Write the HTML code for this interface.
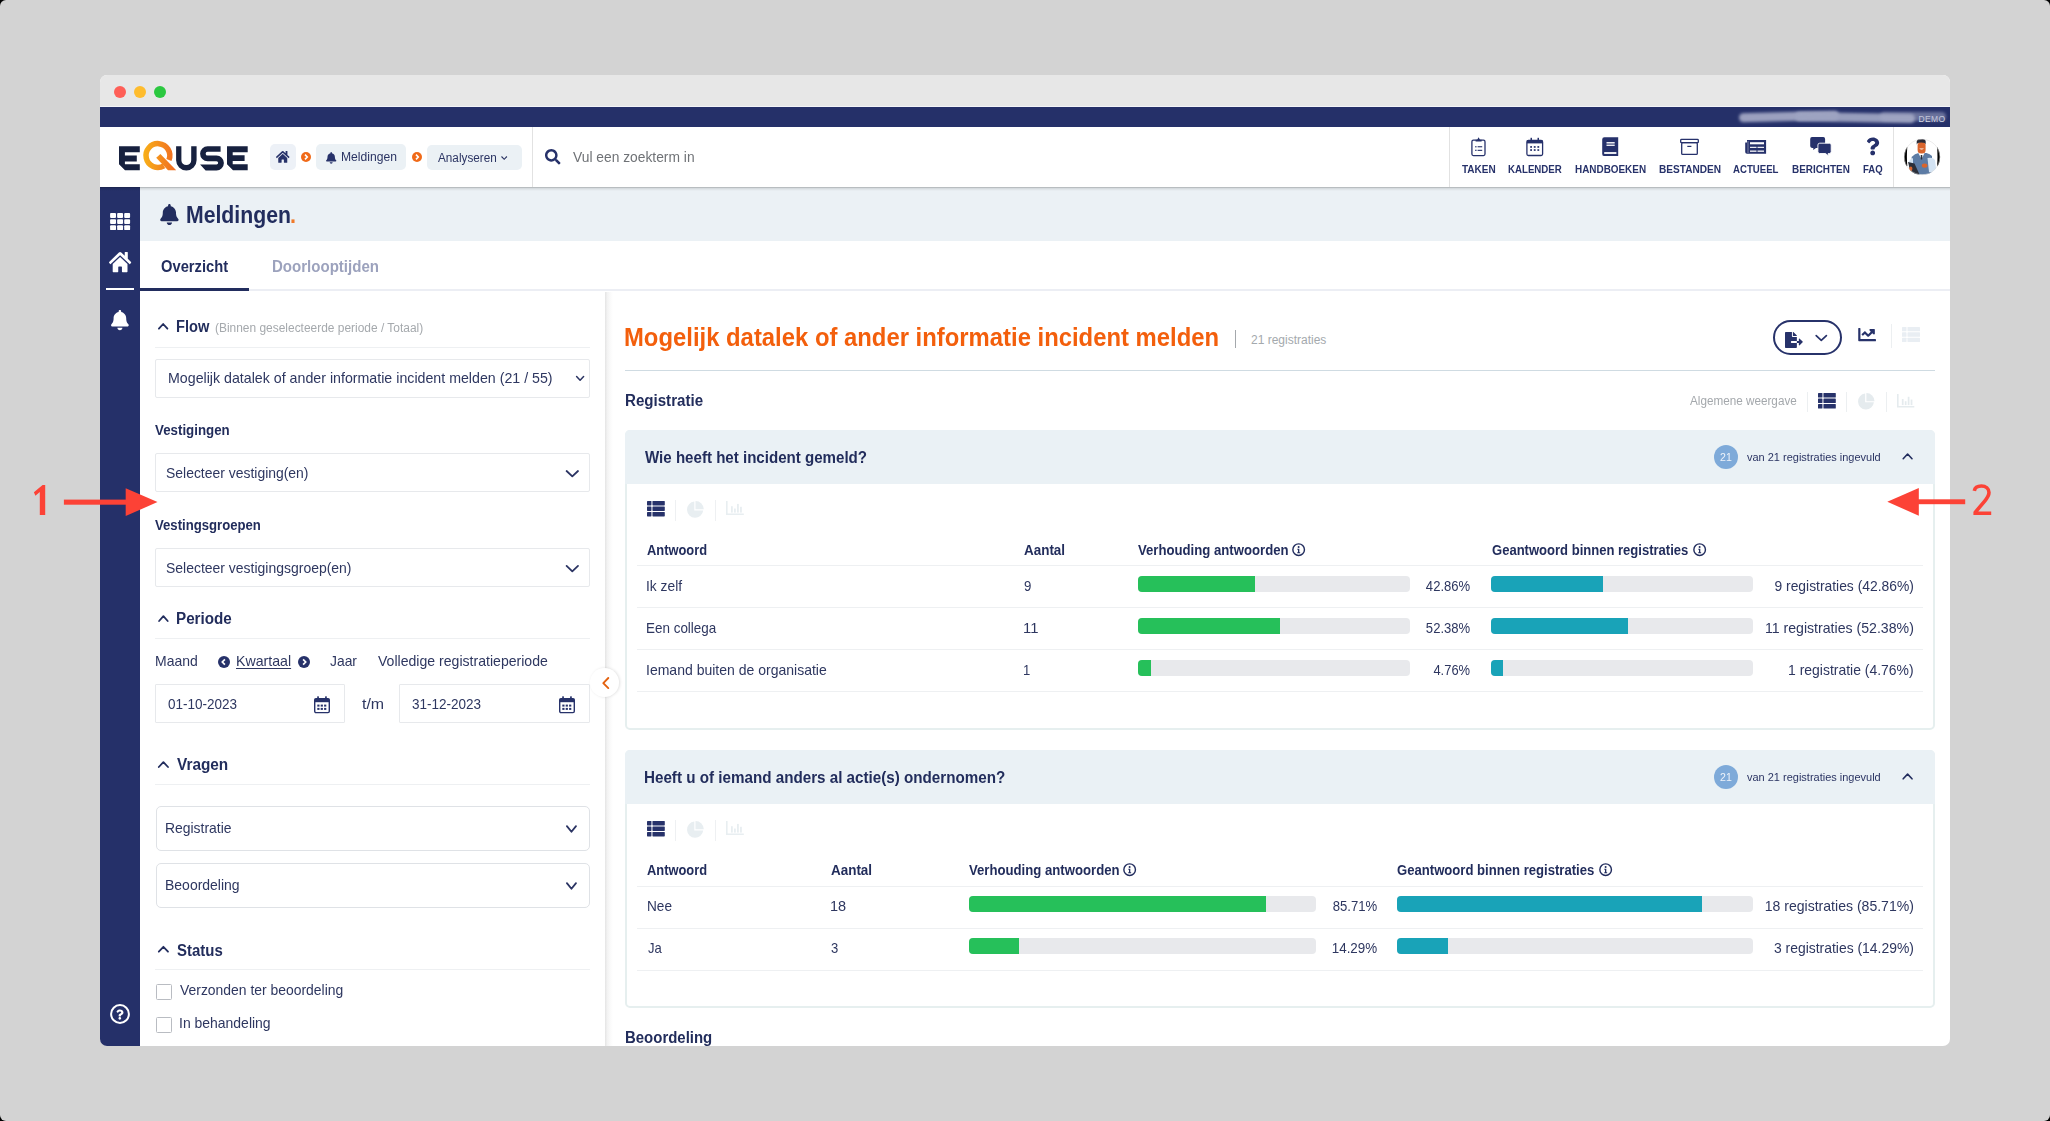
<!DOCTYPE html>
<html><head><meta charset="utf-8"><title>EQUSE - Meldingen</title>
<style>
html,body{margin:0;padding:0;}
body{width:2050px;height:1121px;overflow:hidden;position:relative;background:#000;font-family:"Liberation Sans", sans-serif;}
svg{position:absolute;overflow:visible;}
</style></head><body>
<div style="position:absolute;left:0;top:0;width:2050px;height:1121px;border-radius:6px;background:#d3d3d3;overflow:hidden;">
<div style="position:absolute;left:0;top:0;width:2050px;height:1121px;clip-path:inset(75px 100px 75px 100px round 7px);">
<div style="position:absolute;left:100px;top:75px;width:1850px;height:971px;background:#ffffff;"></div><div style="position:absolute;left:100px;top:75px;width:1850px;height:32px;background:#e7e7e7;"></div><div style="position:absolute;left:113.7px;top:85.7px;width:12.6px;height:12.6px;background:#fe5f57;border-radius:50%;"></div><div style="position:absolute;left:133.7px;top:85.7px;width:12.6px;height:12.6px;background:#febc2e;border-radius:50%;"></div><div style="position:absolute;left:153.7px;top:85.7px;width:12.6px;height:12.6px;background:#2bc840;border-radius:50%;"></div><div style="position:absolute;left:100px;top:105.8px;width:1850px;height:1.2px;background:#f3f4f8;"></div><div style="position:absolute;left:100px;top:107px;width:1850px;height:20px;background:#253069;"></div><span style="position:absolute;left:1918.5px;top:114.5px;font-size:8.5px;line-height:8.5px;font-weight:400;color:#e4e7f2;letter-spacing:0.4px;">DEMO</span><div style="position:absolute;left:1739px;top:111.5px;width:100px;height:8.5px;background:#a2a7c4;filter:blur(1.6px);opacity:0.95;border-radius:5px;transform:rotate(-1.5deg);"></div><div style="position:absolute;left:1795px;top:112.5px;width:120px;height:9px;background:#9ea4c2;filter:blur(1.6px);opacity:0.95;border-radius:5px;transform:rotate(1deg);"></div><div style="position:absolute;left:1880px;top:111.5px;width:66px;height:9px;background:#a4a9c6;filter:blur(1.8px);opacity:0.55;border-radius:5px;"></div><div style="position:absolute;left:100px;top:127px;width:1850px;height:60px;background:#fff;"></div><div style="position:absolute;left:100px;top:187px;width:40px;height:859px;background:#253069;"></div><div style="position:absolute;left:140px;top:187px;width:1810px;height:54px;background:#ebf1f5;"></div><div style="position:absolute;left:140px;top:241px;width:1810px;height:49px;background:#fff;"></div><div style="position:absolute;left:140px;top:289px;width:1810px;height:2px;background:#eceef4;"></div><div style="position:absolute;left:140px;top:288px;width:109px;height:3px;background:#222d5e;"></div><div style="position:absolute;left:100px;top:187px;width:1850px;height:4px;background:linear-gradient(to bottom,rgba(0,0,0,0.28),rgba(0,0,0,0.08) 40%,rgba(0,0,0,0));z-index:3;"></div><div style="position:absolute;left:605px;top:292px;width:8px;height:754px;background:linear-gradient(to right,#e4e4e4,#f3f3f3 30%,#fbfbfb 70%,#fff);"></div><svg style="left:0px;top:0px;z-index:4;pointer-events:none;" width="2050" height="1121" viewBox="0 0 2050 1121"><defs><linearGradient id="qg" x1="143" y1="0" x2="176" y2="0" gradientUnits="userSpaceOnUse">
<stop offset="0" stop-color="#f8b118"/><stop offset="1" stop-color="#f06a22"/></linearGradient></defs>
<path fill="#17213f" d="M119,146.2 H139.8 V152.2 H124.9 V155.5 H136.8 V161.4 H124.9 V164.3 H139.8 V170.3 H125 L119,164.3 Z"/>
<path fill="#17213f" d="M176.1,146.2 H181.4 V160.2 A4.9,4.9 0 0 0 191.2,160.2 V146.2 H196.6 V160.2 A10.25,10.25 0 0 1 176.1,160.2 Z"/>
<path fill="#17213f" d="M220.6,146.2 V151.7 H207.6 A1.95,1.95 0 0 0 207.6,155.6 H216.5 A7.4,7.4 0 0 1 216.5,170.4 H205.6 L200.1,164.5 H216.5 A1.65,1.65 0 0 0 216.5,161.2 H207.6 A7.5,7.5 0 0 1 207.6,146.2 Z"/>
<path fill="#17213f" d="M227,146.2 H247.7 V152.2 H232.7 V155.3 H244.6 V160.9 H232.7 V164.3 H247.7 V170.3 H233 L227,164.3 Z"/>
<path fill="none" stroke="url(#qg)" stroke-width="5.5" d="M163.85,165.81 A11.9,11.9 0 1 1 168.93,159.96"/>
<path fill="url(#qg)" d="M156.2,157.7 L160.4,153.9 L176.2,170.3 L168,170.3 Z"/>
</svg><div style="position:absolute;left:270px;top:144px;width:25.7px;height:25.6px;background:#edf1f7;border-radius:5px;"></div><div style="position:absolute;left:316.1px;top:144px;width:90.4px;height:25.8px;background:#ebf1f5;border-radius:5px;"></div><div style="position:absolute;left:427px;top:145.1px;width:95px;height:25.4px;background:#ebf1f5;border-radius:5px;"></div><svg style="left:276.3px;top:151.3px;z-index:4;overflow:visible;" width="13.5" height="11.8" viewBox="0 32 576 448" preserveAspectRatio="none"><path fill="#27326a" d="M280.37 148.26L96 300.11V464a16 16 0 0 0 16 16l112.06-.29a16 16 0 0 0 15.92-16V368a16 16 0 0 1 16-16h64a16 16 0 0 1 16 16v95.64a16 16 0 0 0 16 16.05L464 480a16 16 0 0 0 16-16V300L295.67 148.26a12.190 12.190 0 0 0-15.3 0zM571.6 251.47L488 182.56V44.05a12 12 0 0 0-12-12h-56a12 12 0 0 0-12 12v72.61L318.47 43a48 48 0 0 0-61 0L4.34 251.47a12 12 0 0 0-1.6 16.9l25.5 31A12 12 0 0 0 45.15 301l235.22-193.74a12.19 12.19 0 0 1 15.3 0L530.9 301a12 12 0 0 0 16.9-1.6l25.5-31a12 12 0 0 0-1.7-16.93z"/></svg><svg style="left:326px;top:151.7px;z-index:4;" width="10.4" height="11.8" viewBox="0 0 448 512"><path fill="#27326a" d="M224 512c35.32 0 63.97-28.65 63.97-64H160.03c0 35.35 28.65 64 63.97 64zm215.39-149.71c-19.32-20.760-55.47-51.99-55.47-154.29 0-77.7-54.48-139.9-127.94-155.16V32c0-17.67-14.32-32-31.98-32s-31.98 14.33-31.98 32v20.84C118.56 68.1 64.08 130.3 64.08 208c0 102.3-36.15 133.53-55.47 154.29-6 6.45-8.66 14.16-8.61 21.71.11 16.4 12.98 32 32.1 32h383.8c19.12 0 32-15.6 32.1-32 .05-7.55-2.61-15.27-8.61-21.71z"/></svg><svg style="left:301px;top:152.3px;z-index:4;" width="10" height="10" viewBox="0 0 10 10"><circle cx="5" cy="5" r="5" fill="#f06a19"/><path d="M4,2.6 L6.3,5 L4,7.4" fill="none" stroke="#fff" stroke-width="1.6"/></svg><svg style="left:412px;top:152.3px;z-index:4;" width="10" height="10" viewBox="0 0 10 10"><circle cx="5" cy="5" r="5" fill="#f06a19"/><path d="M4,2.6 L6.3,5 L4,7.4" fill="none" stroke="#fff" stroke-width="1.6"/></svg><svg style="left:500.8px;top:155.9px;z-index:4;" width="6.4" height="3.9" viewBox="0 0 6.4 3.9"><path d="M0.5,0.5 L3.2,3.3 L5.9,0.5" fill="none" stroke="#2b3463" stroke-width="1.1"/></svg><div style="position:absolute;left:532px;top:127px;width:1px;height:60px;background:#e2e2e2;z-index:3;"></div><div style="position:absolute;left:1449px;top:127px;width:1px;height:60px;background:#e2e2e2;z-index:3;"></div><div style="position:absolute;left:1893px;top:127px;width:1px;height:60px;background:#e2e2e2;z-index:3;"></div><svg style="left:545px;top:149px;z-index:4;" width="15.5" height="15.6" viewBox="0 0 512 512"><path fill="#27326a" d="M505 442.7L405.3 343c-4.5-4.5-10.6-7-17-7H372c27.6-35.3 44-79.7 44-128C416 93.1 322.9 0 208 0S0 93.1 0 208s93.1 208 208 208c48.3 0 92.7-16.4 128-44v16.3c0 6.4 2.5 12.5 7 17l99.7 99.7c9.4 9.4 24.6 9.4 33.9 0l28.3-28.3c9.4-9.4 9.4-24.6.1-34zM208 336c-70.7 0-128-57.2-128-128 0-70.7 57.2-128 128-128 70.7 0 128 57.2 128 128 0 70.7-57.2 128-128 128z"/></svg><svg style="left:0px;top:0px;z-index:4;pointer-events:none;" width="2050" height="1121" viewBox="0 0 2050 1121">
<g fill="none" stroke="#26316b" stroke-width="1.3">
 <rect x="1471.9" y="140.2" width="13.1" height="15.4" rx="1.5"/>
 <rect x="1526.9" y="140.4" width="15.7" height="15.1" rx="1.5"/>
 <rect x="1680.7" y="139.4" width="17.6" height="3.3" rx="0.8"/>
 <rect x="1681.7" y="142.7" width="15.6" height="11.7" rx="1"/>
</g>
<g fill="#26316b">
 <path d="M1475.6,139.8 h6 v1.6 h-6z M1477.2,139.8 L1478.6,137.3 L1480,139.8z"/>
 <rect x="1475.2" y="146.1" width="1.3" height="1.3"/><rect x="1477.6" y="146.2" width="4.6" height="1.1"/>
 <rect x="1475.2" y="149.7" width="1.3" height="1.3"/><rect x="1477.6" y="149.8" width="4.6" height="1.1"/>
 <rect x="1526.9" y="140.4" width="15.7" height="3"/>
 <rect x="1530.5" y="137.8" width="1.5" height="3"/><rect x="1537.5" y="137.8" width="1.5" height="3"/>
 <rect x="1530.2" y="146.1" width="1.8" height="1.7"/><rect x="1533.8" y="146.1" width="1.8" height="1.7"/><rect x="1537.4" y="146.1" width="1.8" height="1.7"/>
 <rect x="1530.2" y="149.2" width="1.8" height="1.7"/><rect x="1533.8" y="149.2" width="1.8" height="1.7"/><rect x="1537.4" y="149.2" width="1.8" height="1.7"/>
 <path d="M1604.4,137.3 H1618.2 V156.1 H1604.4 A2.2,2.2 0 0 1 1602.2,153.9 V139.5 A2.2,2.2 0 0 1 1604.4,137.3Z"/>
 <rect x="1687.3" y="145.8" width="4.1" height="1.2"/>
 <path d="M1747,140 H1766.1 V153.8 H1747 A1.8,1.8 0 0 1 1745.2,152 V142.5 H1747Z"/>
 <path d="M1812,137.1 H1823.3 A1.8,1.8 0 0 1 1825.1,138.9 V146.1 A1.8,1.8 0 0 1 1823.3,147.9 H1816 L1813.3,150 V147.9 H1812 A1.8,1.8 0 0 1 1810.2,146.1 V138.9 A1.8,1.8 0 0 1 1812,137.1Z"/>
 <path d="M1819.7,143.2 H1829.4 A1.8,1.8 0 0 1 1831.2,145 V151.7 A1.8,1.8 0 0 1 1829.4,153.5 H1828.2 V155.8 L1825.6,153.5 H1819.7 A1.8,1.8 0 0 1 1817.9,151.7 V145 A1.8,1.8 0 0 1 1819.7,143.2Z" stroke="#fff" stroke-width="0.9"/>
</g>
<g fill="#fff">
 <rect x="1606.5" y="142.1" width="8.2" height="1.4"/><rect x="1606.5" y="144.6" width="8.2" height="1.3"/>
 <rect x="1604.2" y="152.1" width="12.2" height="1.8"/>
 <rect x="1750" y="142.2" width="14" height="2.1"/>
 <rect x="1750" y="146.8" width="6.5" height="1.1"/><rect x="1757.5" y="146.8" width="6.5" height="1.1"/>
 <rect x="1750" y="150.4" width="6.5" height="1.6" opacity="0.8"/><rect x="1757.5" y="150.4" width="6.5" height="1.6" opacity="0.8"/>
 <rect x="1747.6" y="141" width="0.8" height="12" opacity="0.5"/>
</g>
</svg><svg style="left:1866px;top:137.2px;z-index:4;overflow:visible;" width="13.4" height="18.9" viewBox="0 0 384 512"><path fill="#26316b" d="M202.021 0C122.202 0 70.503 32.703 29.914 91.026c-7.363 10.58-5.093 25.086 5.178 32.874l43.138 32.709c10.373 7.865 25.132 6.026 33.253-4.148 25.049-31.381 43.63-49.449 82.757-49.449 30.764 0 68.816 19.799 68.816 49.631 0 22.552-18.617 34.134-48.993 51.164-35.423 19.86-82.299 44.576-82.299 106.405V320c0 13.255 10.745 24 24 24h72.471c13.255 0 24-10.745 24-24v-5.773c0-42.86 125.268-44.645 125.268-160.627C377.504 66.256 286.902 0 202.021 0zM192 373.459c-38.196 0-69.271 31.075-69.271 69.271 0 38.195 31.075 69.27 69.271 69.27s69.271-31.075 69.271-69.271-31.075-69.27-69.271-69.27z"/></svg><svg style="left:0px;top:0px;z-index:4;pointer-events:none;" width="2050" height="1121" viewBox="0 0 2050 1121"><g fill="#fff"><rect x="110.10" y="213.10" width="5.9" height="4.8" rx="0.9"/><rect x="110.10" y="219.20" width="5.9" height="4.8" rx="0.9"/><rect x="110.10" y="225.30" width="5.9" height="4.8" rx="0.9"/><rect x="117.15" y="213.10" width="5.9" height="4.8" rx="0.9"/><rect x="117.15" y="219.20" width="5.9" height="4.8" rx="0.9"/><rect x="117.15" y="225.30" width="5.9" height="4.8" rx="0.9"/><rect x="124.20" y="213.10" width="5.9" height="4.8" rx="0.9"/><rect x="124.20" y="219.20" width="5.9" height="4.8" rx="0.9"/><rect x="124.20" y="225.30" width="5.9" height="4.8" rx="0.9"/></g></svg><svg style="left:108.8px;top:252px;z-index:4;overflow:visible;" width="22.2" height="20.2" viewBox="0 32 576 448" preserveAspectRatio="none"><path fill="#fff" d="M280.37 148.26L96 300.11V464a16 16 0 0 0 16 16l112.06-.29a16 16 0 0 0 15.92-16V368a16 16 0 0 1 16-16h64a16 16 0 0 1 16 16v95.64a16 16 0 0 0 16 16.05L464 480a16 16 0 0 0 16-16V300L295.67 148.26a12.190 12.190 0 0 0-15.3 0zM571.6 251.47L488 182.56V44.05a12 12 0 0 0-12-12h-56a12 12 0 0 0-12 12v72.61L318.47 43a48 48 0 0 0-61 0L4.34 251.47a12 12 0 0 0-1.6 16.9l25.5 31A12 12 0 0 0 45.15 301l235.22-193.74a12.19 12.19 0 0 1 15.3 0L530.9 301a12 12 0 0 0 16.9-1.6l25.5-31a12 12 0 0 0-1.7-16.93z"/></svg><div style="position:absolute;left:105.6px;top:288px;width:28.4px;height:2.2px;background:#fff;z-index:4;"></div><svg style="left:111.3px;top:309.8px;z-index:4;" width="17.8" height="20.2" viewBox="0 0 448 512"><path fill="#fff" d="M224 512c35.32 0 63.97-28.65 63.97-64H160.03c0 35.35 28.65 64 63.97 64zm215.39-149.71c-19.32-20.760-55.47-51.99-55.47-154.29 0-77.7-54.48-139.9-127.94-155.16V32c0-17.67-14.32-32-31.98-32s-31.98 14.33-31.98 32v20.84C118.56 68.1 64.08 130.3 64.08 208c0 102.3-36.15 133.53-55.47 154.29-6 6.45-8.66 14.16-8.61 21.71.11 16.4 12.98 32 32.1 32h383.8c19.12 0 32-15.6 32.1-32 .05-7.55-2.61-15.27-8.61-21.71z"/></svg><svg style="left:110px;top:1004.4px;z-index:4;" width="20" height="20" viewBox="0 0 20 20"><circle cx="10" cy="10" r="8.9" fill="none" stroke="#fff" stroke-width="2"/></svg><svg style="left:116.3px;top:1009.2px;z-index:4;overflow:visible;" width="7.6" height="11.3" viewBox="0 0 384 512"><path fill="#fff" d="M202.021 0C122.202 0 70.503 32.703 29.914 91.026c-7.363 10.58-5.093 25.086 5.178 32.874l43.138 32.709c10.373 7.865 25.132 6.026 33.253-4.148 25.049-31.381 43.63-49.449 82.757-49.449 30.764 0 68.816 19.799 68.816 49.631 0 22.552-18.617 34.134-48.993 51.164-35.423 19.86-82.299 44.576-82.299 106.405V320c0 13.255 10.745 24 24 24h72.471c13.255 0 24-10.745 24-24v-5.773c0-42.86 125.268-44.645 125.268-160.627C377.504 66.256 286.902 0 202.021 0zM192 373.459c-38.196 0-69.271 31.075-69.271 69.271 0 38.195 31.075 69.27 69.271 69.27s69.271-31.075 69.271-69.271-31.075-69.27-69.271-69.27z"/></svg><svg style="left:160px;top:203.7px;z-index:4;" width="18.8" height="21.1" viewBox="0 0 448 512"><path fill="#222d5e" d="M224 512c35.32 0 63.97-28.65 63.97-64H160.03c0 35.35 28.65 64 63.97 64zm215.39-149.71c-19.32-20.760-55.47-51.99-55.47-154.29 0-77.7-54.48-139.9-127.94-155.16V32c0-17.67-14.32-32-31.98-32s-31.98 14.33-31.98 32v20.84C118.56 68.1 64.08 130.3 64.08 208c0 102.3-36.15 133.53-55.47 154.29-6 6.45-8.66 14.16-8.61 21.71.11 16.4 12.98 32 32.1 32h383.8c19.12 0 32-15.6 32.1-32 .05-7.55-2.61-15.27-8.61-21.71z"/></svg><svg style="left:0px;top:0px;z-index:4;pointer-events:none;" width="2050" height="1121" viewBox="0 0 2050 1121"><path d="M158.9,328.7 L163.15,324.0 L167.4,328.7" fill="none" stroke="#222d5e" stroke-width="1.8" stroke-linecap="round" stroke-linejoin="round"/></svg><div style="position:absolute;left:155.4px;top:347.3px;width:434.6px;height:1px;background:#eef0f2;"></div><div style="position:absolute;left:155.4px;top:358.5px;width:434.6px;height:39.0px;border:1px solid #e7e9ec;box-sizing:border-box;border-radius:2px;background:#fff;"></div><svg style="left:0px;top:0px;z-index:4;pointer-events:none;" width="2050" height="1121" viewBox="0 0 2050 1121"><path d="M576.6,376.5 L580.1,380.2 L583.6,376.5" fill="none" stroke="#2b3463" stroke-width="1.5" stroke-linecap="round" stroke-linejoin="round"/></svg><div style="position:absolute;left:155.4px;top:453.3px;width:434.6px;height:39.0px;border:1px solid #e7e9ec;box-sizing:border-box;border-radius:2px;background:#fff;"></div><svg style="left:0px;top:0px;z-index:4;pointer-events:none;" width="2050" height="1121" viewBox="0 0 2050 1121"><path d="M566.6,471.0 L572.3,476.4 L578.0,471.0" fill="none" stroke="#2b3463" stroke-width="1.8" stroke-linecap="round" stroke-linejoin="round"/></svg><div style="position:absolute;left:155.4px;top:548.2px;width:434.6px;height:39.09999999999991px;border:1px solid #e7e9ec;box-sizing:border-box;border-radius:2px;background:#fff;"></div><svg style="left:0px;top:0px;z-index:4;pointer-events:none;" width="2050" height="1121" viewBox="0 0 2050 1121"><path d="M566.6,565.9 L572.3,571.3 L578.0,565.9" fill="none" stroke="#2b3463" stroke-width="1.8" stroke-linecap="round" stroke-linejoin="round"/></svg><svg style="left:0px;top:0px;z-index:4;pointer-events:none;" width="2050" height="1121" viewBox="0 0 2050 1121"><path d="M159.1,621.0 L163.4,616.2 L167.70000000000002,621.0" fill="none" stroke="#222d5e" stroke-width="1.8" stroke-linecap="round" stroke-linejoin="round"/></svg><div style="position:absolute;left:155.4px;top:638px;width:434.6px;height:1px;background:#eef0f2;"></div><svg style="left:218px;top:655.6px;z-index:4;" width="12" height="12" viewBox="0 0 12 12"><circle cx="6" cy="6" r="6" fill="#27326a"/><path d="M6.9,3.3 L4.3,6 L6.9,8.7" fill="none" stroke="#fff" stroke-width="1.7"/></svg><svg style="left:297.8px;top:655.6px;z-index:4;" width="12" height="12" viewBox="0 0 12 12"><circle cx="6" cy="6" r="6" fill="#27326a"/><path d="M5.1,3.3 L7.7,6 L5.1,8.7" fill="none" stroke="#fff" stroke-width="1.7"/></svg><div style="position:absolute;left:155px;top:684.1px;width:189.5px;height:39.299999999999955px;border:1px solid #e7e9ec;box-sizing:border-box;border-radius:1px;background:#fff;"></div><div style="position:absolute;left:398.8px;top:684.1px;width:191.2px;height:39.299999999999955px;border:1px solid #e7e9ec;box-sizing:border-box;border-radius:1px;background:#fff;"></div><svg style="left:314px;top:695.5px;z-index:4;" width="16" height="17.3" viewBox="0 0 16 17.3"><rect x="0.7" y="2.8" width="14.6" height="13.8" rx="1.3" fill="none" stroke="#27326a" stroke-width="1.4"/><rect x="0.7" y="2.8" width="14.6" height="3.4" fill="#27326a"/><rect x="3.2" y="0.2" width="1.7" height="3.5" rx="0.5" fill="#27326a"/><rect x="11.1" y="0.2" width="1.7" height="3.5" rx="0.5" fill="#27326a"/><rect x="3.3" y="8.6" width="2.2" height="2" fill="#27326a"/><rect x="3.3" y="11.9" width="2.2" height="2" fill="#27326a"/><rect x="6.7" y="8.6" width="2.2" height="2" fill="#27326a"/><rect x="6.7" y="11.9" width="2.2" height="2" fill="#27326a"/><rect x="10.1" y="8.6" width="2.2" height="2" fill="#27326a"/><rect x="10.1" y="11.9" width="2.2" height="2" fill="#27326a"/></svg><svg style="left:559px;top:695.5px;z-index:4;" width="16" height="17.3" viewBox="0 0 16 17.3"><rect x="0.7" y="2.8" width="14.6" height="13.8" rx="1.3" fill="none" stroke="#27326a" stroke-width="1.4"/><rect x="0.7" y="2.8" width="14.6" height="3.4" fill="#27326a"/><rect x="3.2" y="0.2" width="1.7" height="3.5" rx="0.5" fill="#27326a"/><rect x="11.1" y="0.2" width="1.7" height="3.5" rx="0.5" fill="#27326a"/><rect x="3.3" y="8.6" width="2.2" height="2" fill="#27326a"/><rect x="3.3" y="11.9" width="2.2" height="2" fill="#27326a"/><rect x="6.7" y="8.6" width="2.2" height="2" fill="#27326a"/><rect x="6.7" y="11.9" width="2.2" height="2" fill="#27326a"/><rect x="10.1" y="8.6" width="2.2" height="2" fill="#27326a"/><rect x="10.1" y="11.9" width="2.2" height="2" fill="#27326a"/></svg><svg style="left:0px;top:0px;z-index:4;pointer-events:none;" width="2050" height="1121" viewBox="0 0 2050 1121"><path d="M158.79999999999998,767.0 L163.39999999999998,762.1 L168.0,767.0" fill="none" stroke="#222d5e" stroke-width="1.8" stroke-linecap="round" stroke-linejoin="round"/></svg><div style="position:absolute;left:155.4px;top:784px;width:434.6px;height:1px;background:#eef0f2;"></div><div style="position:absolute;left:155.5px;top:805.5px;width:434.5px;height:45.89999999999998px;border:1px solid #dfe2e6;box-sizing:border-box;border-radius:5px;background:#fff;"></div><svg style="left:0px;top:0px;z-index:4;pointer-events:none;" width="2050" height="1121" viewBox="0 0 2050 1121"><path d="M566.9,826.1 L571.45,831.6999999999999 L576.0,826.1" fill="none" stroke="#2b3463" stroke-width="1.8" stroke-linecap="round" stroke-linejoin="round"/></svg><div style="position:absolute;left:155.5px;top:862.8px;width:434.5px;height:45.60000000000002px;border:1px solid #dfe2e6;box-sizing:border-box;border-radius:5px;background:#fff;"></div><svg style="left:0px;top:0px;z-index:4;pointer-events:none;" width="2050" height="1121" viewBox="0 0 2050 1121"><path d="M566.9,883.1 L571.45,888.6999999999999 L576.0,883.1" fill="none" stroke="#2b3463" stroke-width="1.8" stroke-linecap="round" stroke-linejoin="round"/></svg><svg style="left:0px;top:0px;z-index:4;pointer-events:none;" width="2050" height="1121" viewBox="0 0 2050 1121"><path d="M158.79999999999998,951.7 L163.39999999999998,946.8000000000001 L168.0,951.7" fill="none" stroke="#222d5e" stroke-width="1.8" stroke-linecap="round" stroke-linejoin="round"/></svg><div style="position:absolute;left:155.4px;top:969px;width:434.6px;height:1px;background:#eef0f2;"></div><div style="position:absolute;left:156px;top:984.3px;width:16px;height:15.700000000000045px;border:1px solid #b9bcc2;box-sizing:border-box;border-radius:1.5px;background:#fff;"></div><div style="position:absolute;left:156px;top:1017px;width:16px;height:15.799999999999955px;border:1px solid #b9bcc2;box-sizing:border-box;border-radius:1.5px;background:#fff;"></div><div style="position:absolute;left:590.3px;top:668.4px;width:28.6px;height:28.6px;background:#fff;border-radius:50%;box-shadow:1px 0 3px rgba(0,0,0,0.12);z-index:3;"></div><svg style="left:601.7px;top:677.4px;z-index:4;z-index:5;" width="7.3" height="12.1" viewBox="0 0 7.3 12.1"><path d="M6.3,1 L1.3,6.05 L6.3,11.1" fill="none" stroke="#e3610f" stroke-width="1.9" stroke-linecap="round" stroke-linejoin="round"/></svg><div style="position:absolute;left:625px;top:369.6px;width:1310px;height:1.3px;background:#cfdbe2;"></div><div style="position:absolute;left:1235.2px;top:330px;width:1px;height:17.7px;background:#a4a8ac;"></div><div style="position:absolute;left:1773.2px;top:320.2px;width:69.3px;height:34.4px;border:2px solid #27326a;border-radius:18px;box-sizing:border-box;"></div><svg style="left:1784.5px;top:332px;z-index:4;overflow:visible;" width="17.8" height="16" viewBox="0 0 576 512"><path fill="#27326a" d="M384 121.9c0-6.3-2.5-12.4-7-16.9L279.1 7c-4.5-4.5-10.6-7-17-7H256v128h128zM571 308l-95.7-96.4c-10.1-10.1-27.4-3-27.4 11.3V288h-64v64h64v65.2c0 14.3 17.3 21.4 27.4 11.3L571 332c6.6-6.6 6.6-17.4 0-24zm-379 28v-32c0-8.8 7.2-16 16-16h176V160H248c-13.2 0-24-10.8-24-24V0H24C10.7 0 0 10.7 0 24v464c0 13.3 10.7 24 24 24h336c13.3 0 24-10.7 24-24V352H208c-8.8 0-16-7.2-16-16z"/></svg><svg style="left:0px;top:0px;z-index:4;pointer-events:none;" width="2050" height="1121" viewBox="0 0 2050 1121"><path d="M1816.1999999999998,335.7 L1821.3,340.4 L1826.4,335.7" fill="none" stroke="#27326a" stroke-width="1.7" stroke-linecap="round" stroke-linejoin="round"/></svg><svg style="left:1858px;top:327.7px;z-index:4;overflow:visible;" width="18.2" height="13.3" viewBox="0 64 512 384"><path fill="#27326a" d="M496 384H64V80c0-8.84-7.16-16-16-16H16C7.160 64 0 71.16 0 80v336c0 17.67 14.33 32 32 32h464c8.84 0 16-7.16 16-16v-32c0-8.84-7.16-16-16-16zM464 96H345.94c-21.38 0-32.09 25.85-16.97 40.97l32.4 32.4L288 242.75l-73.37-73.37c-12.5-12.5-32.76-12.5-45.25 0l-68.690 68.69c-6.25 6.25-6.25 16.38 0 22.63l22.62 22.62c6.25 6.25 16.38 6.25 22.63 0L192 237.25l73.37 73.37c12.5 12.5 32.76 12.5 45.25 0l96-96 32.4 32.4c15.12 15.12 40.97 4.41 40.97-16.97V112c.01-8.84-7.15-16-15.99-16z"/></svg><div style="position:absolute;left:1891px;top:324px;width:1px;height:23.5px;background:#eceff1;"></div><svg style="left:1902px;top:326.7px;z-index:4;" width="18" height="15.1" viewBox="0 0 18 15.1"><rect x="0" y="0.00" width="4.50" height="4.37" rx="0.6" fill="#e9eef3"/><rect x="5.50" y="0.00" width="12.50" height="4.37" rx="0.6" fill="#e9eef3"/><rect x="0" y="5.37" width="4.50" height="4.37" rx="0.6" fill="#e9eef3"/><rect x="5.50" y="5.37" width="12.50" height="4.37" rx="0.6" fill="#e9eef3"/><rect x="0" y="10.73" width="4.50" height="4.37" rx="0.6" fill="#e9eef3"/><rect x="5.50" y="10.73" width="12.50" height="4.37" rx="0.6" fill="#e9eef3"/></svg><div style="position:absolute;left:1807.3px;top:392px;width:1px;height:20px;background:#eceff1;"></div><svg style="left:1818px;top:392.5px;z-index:4;" width="17.8" height="15.5" viewBox="0 0 17.8 15.5"><rect x="0" y="0.00" width="4.45" height="4.50" rx="0.6" fill="#27326a"/><rect x="5.45" y="0.00" width="12.35" height="4.50" rx="0.6" fill="#27326a"/><rect x="0" y="5.50" width="4.45" height="4.50" rx="0.6" fill="#27326a"/><rect x="5.45" y="5.50" width="12.35" height="4.50" rx="0.6" fill="#27326a"/><rect x="0" y="11.00" width="4.45" height="4.50" rx="0.6" fill="#27326a"/><rect x="5.45" y="11.00" width="12.35" height="4.50" rx="0.6" fill="#27326a"/></svg><div style="position:absolute;left:1846.2px;top:392px;width:1px;height:20px;background:#eceff1;"></div><svg style="left:1857px;top:392.7px;z-index:4;" width="17.5" height="17.5" viewBox="0 0 17.5 17.5"><path d="M8.15,0.6 A7.95,7.95 0 1 0 16.9,9.35 H8.15Z" fill="#e5ebee"/><path d="M9.35,0 A8.15,8.15 0 0 1 17.5,8.15 H9.35Z" fill="#e5ebee"/></svg><div style="position:absolute;left:1886.1px;top:392px;width:1px;height:20px;background:#eceff1;"></div><svg style="left:1897.3px;top:393.5px;z-index:4;" width="17.3" height="13.5" viewBox="0 0 17.3 13.5"><path d="M0.8,0 V12.7 H17.3" fill="none" stroke="#e5ebee" stroke-width="1.6"/><rect x="4.84" y="4.99" width="1.73" height="6.11" fill="#e5ebee"/><rect x="7.79" y="7.21" width="1.73" height="3.88" fill="#e5ebee"/><rect x="10.73" y="2.77" width="1.73" height="8.32" fill="#e5ebee"/><rect x="13.67" y="5.55" width="1.73" height="5.55" fill="#e5ebee"/></svg><div style="position:absolute;left:625px;top:430px;width:1310px;height:299.79999999999995px;border:2px solid #e6efef;border-radius:5px;box-sizing:border-box;background:#fff;"></div><div style="position:absolute;left:625px;top:430px;width:1310px;height:53.7px;background:#eaf1f5;border-radius:5px 5px 0 0;"></div><svg style="left:1713.5px;top:445px;z-index:4;" width="24" height="24" viewBox="0 0 24 24"><circle cx="12" cy="12" r="12" fill="#7eaad9"/></svg><svg style="left:0px;top:0px;z-index:4;pointer-events:none;" width="2050" height="1121" viewBox="0 0 2050 1121"><path d="M1903.1999999999998,458.7 L1907.6,454.0 L1912.0,458.7" fill="none" stroke="#222d5e" stroke-width="1.6" stroke-linecap="round" stroke-linejoin="round"/></svg><svg style="left:647.2px;top:500.5px;z-index:4;" width="17.8" height="15.4" viewBox="0 0 17.8 15.4"><rect x="0" y="0.00" width="4.45" height="4.47" rx="0.6" fill="#27326a"/><rect x="5.45" y="0.00" width="12.35" height="4.47" rx="0.6" fill="#27326a"/><rect x="0" y="5.47" width="4.45" height="4.47" rx="0.6" fill="#27326a"/><rect x="5.45" y="5.47" width="12.35" height="4.47" rx="0.6" fill="#27326a"/><rect x="0" y="10.93" width="4.45" height="4.47" rx="0.6" fill="#27326a"/><rect x="5.45" y="10.93" width="12.35" height="4.47" rx="0.6" fill="#27326a"/></svg><div style="position:absolute;left:675.1px;top:500.0px;width:1px;height:21px;background:#eef0f2;"></div><svg style="left:686.3px;top:500.5px;z-index:4;" width="17.8" height="17.8" viewBox="0 0 17.8 17.8"><path d="M8.3,0.6 A8.1,8.1 0 1 0 17.2,9.5 H8.3Z" fill="#e8eef1"/><path d="M9.5,0 A8.3,8.3 0 0 1 17.8,8.3 H9.5Z" fill="#e8eef1"/></svg><div style="position:absolute;left:715.3px;top:500.0px;width:1px;height:21px;background:#eef0f2;"></div><svg style="left:726px;top:501.0px;z-index:4;" width="17.8" height="14" viewBox="0 0 17.8 14"><path d="M0.8,0 V13.2 H17.8" fill="none" stroke="#e8eef1" stroke-width="1.6"/><rect x="4.98" y="5.22" width="1.78" height="6.38" fill="#e8eef1"/><rect x="8.01" y="7.54" width="1.78" height="4.06" fill="#e8eef1"/><rect x="11.04" y="2.90" width="1.78" height="8.70" fill="#e8eef1"/><rect x="14.06" y="5.80" width="1.78" height="5.80" fill="#e8eef1"/></svg><div style="position:absolute;left:637px;top:565.3px;width:1286px;height:1.2px;background:#eef0f2;"></div><div style="position:absolute;left:637px;top:607.3px;width:1286px;height:1.2px;background:#eef0f2;"></div><div style="position:absolute;left:637px;top:649.3px;width:1286px;height:1.2px;background:#eef0f2;"></div><div style="position:absolute;left:637px;top:691.3px;width:1286px;height:1.2px;background:#eef0f2;"></div><div style="position:absolute;left:1138px;top:576.0999999999999px;width:272px;height:15.8px;background:#e8e9ec;border-radius:4px;"></div><div style="position:absolute;left:1138px;top:576.0999999999999px;width:116.5792px;height:15.8px;background:#26c05a;border-radius:4px 0 0 4px;"></div><div style="position:absolute;left:1491px;top:576.0999999999999px;width:262px;height:15.8px;background:#e8e9ec;border-radius:4px;"></div><div style="position:absolute;left:1491px;top:576.0999999999999px;width:112.2932px;height:15.8px;background:#19a3b8;border-radius:4px 0 0 4px;"></div><div style="position:absolute;left:1138px;top:618.0999999999999px;width:272px;height:15.8px;background:#e8e9ec;border-radius:4px;"></div><div style="position:absolute;left:1138px;top:618.0999999999999px;width:142.4736px;height:15.8px;background:#26c05a;border-radius:4px 0 0 4px;"></div><div style="position:absolute;left:1491px;top:618.0999999999999px;width:262px;height:15.8px;background:#e8e9ec;border-radius:4px;"></div><div style="position:absolute;left:1491px;top:618.0999999999999px;width:137.2356px;height:15.8px;background:#19a3b8;border-radius:4px 0 0 4px;"></div><div style="position:absolute;left:1138px;top:660.0999999999999px;width:272px;height:15.8px;background:#e8e9ec;border-radius:4px;"></div><div style="position:absolute;left:1138px;top:660.0999999999999px;width:12.9472px;height:15.8px;background:#26c05a;border-radius:4px 0 0 4px;"></div><div style="position:absolute;left:1491px;top:660.0999999999999px;width:262px;height:15.8px;background:#e8e9ec;border-radius:4px;"></div><div style="position:absolute;left:1491px;top:660.0999999999999px;width:12.471200000000001px;height:15.8px;background:#19a3b8;border-radius:4px 0 0 4px;"></div><svg style="left:1292px;top:543.2px;z-index:4;" width="13.3" height="13.3" viewBox="0 0 14 14"><circle cx="7" cy="7" r="6.1" fill="none" stroke="#222d5e" stroke-width="1.5"/><circle cx="7" cy="4.1" r="1.05" fill="#222d5e"/><path d="M5.6,6 H7.7 V9.7 H8.6 V10.9 H5.5 V9.7 H6.3 V7.2 H5.6Z" fill="#222d5e"/></svg><svg style="left:1692.5px;top:543.2px;z-index:4;" width="13.3" height="13.3" viewBox="0 0 14 14"><circle cx="7" cy="7" r="6.1" fill="none" stroke="#222d5e" stroke-width="1.5"/><circle cx="7" cy="4.1" r="1.05" fill="#222d5e"/><path d="M5.6,6 H7.7 V9.7 H8.6 V10.9 H5.5 V9.7 H6.3 V7.2 H5.6Z" fill="#222d5e"/></svg><div style="position:absolute;left:625px;top:750.1px;width:1310px;height:257.69999999999993px;border:2px solid #e6efef;border-radius:5px;box-sizing:border-box;background:#fff;"></div><div style="position:absolute;left:625px;top:750.1px;width:1310px;height:53.7px;background:#eaf1f5;border-radius:5px 5px 0 0;"></div><svg style="left:1713.5px;top:765.1px;z-index:4;" width="24" height="24" viewBox="0 0 24 24"><circle cx="12" cy="12" r="12" fill="#7eaad9"/></svg><svg style="left:0px;top:0px;z-index:4;pointer-events:none;" width="2050" height="1121" viewBox="0 0 2050 1121"><path d="M1903.1999999999998,778.8000000000001 L1907.6,774.1 L1912.0,778.8000000000001" fill="none" stroke="#222d5e" stroke-width="1.6" stroke-linecap="round" stroke-linejoin="round"/></svg><svg style="left:647.2px;top:820.6px;z-index:4;" width="17.8" height="15.4" viewBox="0 0 17.8 15.4"><rect x="0" y="0.00" width="4.45" height="4.47" rx="0.6" fill="#27326a"/><rect x="5.45" y="0.00" width="12.35" height="4.47" rx="0.6" fill="#27326a"/><rect x="0" y="5.47" width="4.45" height="4.47" rx="0.6" fill="#27326a"/><rect x="5.45" y="5.47" width="12.35" height="4.47" rx="0.6" fill="#27326a"/><rect x="0" y="10.93" width="4.45" height="4.47" rx="0.6" fill="#27326a"/><rect x="5.45" y="10.93" width="12.35" height="4.47" rx="0.6" fill="#27326a"/></svg><div style="position:absolute;left:675.1px;top:820.1px;width:1px;height:21px;background:#eef0f2;"></div><svg style="left:686.3px;top:820.6px;z-index:4;" width="17.8" height="17.8" viewBox="0 0 17.8 17.8"><path d="M8.3,0.6 A8.1,8.1 0 1 0 17.2,9.5 H8.3Z" fill="#e8eef1"/><path d="M9.5,0 A8.3,8.3 0 0 1 17.8,8.3 H9.5Z" fill="#e8eef1"/></svg><div style="position:absolute;left:715.3px;top:820.1px;width:1px;height:21px;background:#eef0f2;"></div><svg style="left:726px;top:821.1px;z-index:4;" width="17.8" height="14" viewBox="0 0 17.8 14"><path d="M0.8,0 V13.2 H17.8" fill="none" stroke="#e8eef1" stroke-width="1.6"/><rect x="4.98" y="5.22" width="1.78" height="6.38" fill="#e8eef1"/><rect x="8.01" y="7.54" width="1.78" height="4.06" fill="#e8eef1"/><rect x="11.04" y="2.90" width="1.78" height="8.70" fill="#e8eef1"/><rect x="14.06" y="5.80" width="1.78" height="5.80" fill="#e8eef1"/></svg><div style="position:absolute;left:637px;top:885.6px;width:1286px;height:1.2px;background:#eef0f2;"></div><div style="position:absolute;left:637px;top:927.6px;width:1286px;height:1.2px;background:#eef0f2;"></div><div style="position:absolute;left:637px;top:969.6px;width:1286px;height:1.2px;background:#eef0f2;"></div><div style="position:absolute;left:969px;top:896.4px;width:347px;height:15.8px;background:#e8e9ec;border-radius:4px;"></div><div style="position:absolute;left:969px;top:896.4px;width:297.4137px;height:15.8px;background:#26c05a;border-radius:4px 0 0 4px;"></div><div style="position:absolute;left:1397px;top:896.4px;width:356px;height:15.8px;background:#e8e9ec;border-radius:4px;"></div><div style="position:absolute;left:1397px;top:896.4px;width:305.1276px;height:15.8px;background:#19a3b8;border-radius:4px 0 0 4px;"></div><div style="position:absolute;left:969px;top:938.4px;width:347px;height:15.8px;background:#e8e9ec;border-radius:4px;"></div><div style="position:absolute;left:969px;top:938.4px;width:49.5863px;height:15.8px;background:#26c05a;border-radius:4px 0 0 4px;"></div><div style="position:absolute;left:1397px;top:938.4px;width:356px;height:15.8px;background:#e8e9ec;border-radius:4px;"></div><div style="position:absolute;left:1397px;top:938.4px;width:50.8724px;height:15.8px;background:#19a3b8;border-radius:4px 0 0 4px;"></div><svg style="left:1123px;top:863.4px;z-index:4;" width="13.3" height="13.3" viewBox="0 0 14 14"><circle cx="7" cy="7" r="6.1" fill="none" stroke="#222d5e" stroke-width="1.5"/><circle cx="7" cy="4.1" r="1.05" fill="#222d5e"/><path d="M5.6,6 H7.7 V9.7 H8.6 V10.9 H5.5 V9.7 H6.3 V7.2 H5.6Z" fill="#222d5e"/></svg><svg style="left:1599px;top:863.4px;z-index:4;" width="13.3" height="13.3" viewBox="0 0 14 14"><circle cx="7" cy="7" r="6.1" fill="none" stroke="#222d5e" stroke-width="1.5"/><circle cx="7" cy="4.1" r="1.05" fill="#222d5e"/><path d="M5.6,6 H7.7 V9.7 H8.6 V10.9 H5.5 V9.7 H6.3 V7.2 H5.6Z" fill="#222d5e"/></svg><svg style="left:0px;top:0px;z-index:4;pointer-events:none;" width="2050" height="1121" viewBox="0 0 2050 1121"><defs><clipPath id="avc"><circle cx="1922.1" cy="157" r="18"/></clipPath></defs>
<g clip-path="url(#avc)">
<rect x="1903" y="138" width="38" height="38" fill="#ffffff"/>
<path d="M1904.1,146.5 Q1901.5,157 1904.1,167 L1907.3,166 Q1906.5,157 1907.3,147Z" fill="#000"/>
<path d="M1940,146.5 Q1942.7,157 1940,167 L1937.1,166 Q1937.8,157 1937.1,147Z" fill="#000"/>
<path d="M1913,174.5 L1911.6,157 Q1915,153.6 1918.5,153 L1926.5,153 Q1930,153.8 1932,156 L1931.5,174.5Z" fill="#5d7ca5"/>
<path d="M1927.5,158 Q1933,157 1935,160 L1936.5,172 L1929,172Z" fill="#d3e3f3"/>
<path d="M1908.5,162 Q1910,159 1913,158 L1913,166Z" fill="#d3e3f3"/>
<path d="M1918.3,153 L1921.5,159 L1924.6,153Z" fill="#ffffff"/>
<path d="M1920.7,155 L1922.3,155 L1922.2,159.5 L1920.8,159.5Z" fill="#2b2f3a"/>
<rect x="1917.6" y="142" width="8" height="11.5" rx="3.5" fill="#d9652d"/>
<path d="M1919.2,148.5 Q1921.6,150.5 1924,148.5Z" fill="#fff"/>
<path d="M1916.7,144.5 V141.6 Q1916.9,138.6 1921.2,138.6 Q1925.7,138.6 1925.7,141.6 V144.5 L1924.8,143 Q1921.2,142.2 1917.8,143Z" fill="#2a2a35"/>
<path d="M1908,162 L1914.5,163.5 L1919.5,174.5 L1911,174.5Z" fill="#2b2f3a"/>
<ellipse cx="1924.6" cy="165.6" rx="2.8" ry="2.2" fill="#d9652d"/>
<ellipse cx="1910.8" cy="168.8" rx="1.6" ry="2.4" fill="#d9652d"/>
</g>
<circle cx="1922.1" cy="157" r="17.7" fill="none" stroke="#d9d9d9" stroke-width="0.5"/></svg>
<span style="position:absolute;left:438.40px;top:152.32px;font-size:12.5px;line-height:12.5px;font-weight:400;color:#2b3463;white-space:nowrap;z-index:5;transform:scaleX(0.9395);transform-origin:left center;">Analyseren</span><span style="position:absolute;left:340.91px;top:151.19px;font-size:12.3px;line-height:12.3px;font-weight:400;color:#2b3463;white-space:nowrap;z-index:5;transform:scaleX(0.9857);transform-origin:left center;">Meldingen</span><span style="position:absolute;left:573.00px;top:149.18px;font-size:15.5px;line-height:15.5px;font-weight:400;color:#6f7276;white-space:nowrap;z-index:5;transform:scaleX(0.8911);transform-origin:left center;">Vul een zoekterm in</span><span style="position:absolute;left:1461.80px;top:164.01px;font-size:10.5px;line-height:10.5px;font-weight:700;color:#27326a;white-space:nowrap;z-index:5;transform:scaleX(0.9539);transform-origin:left center;">TAKEN</span><span style="position:absolute;left:1507.80px;top:164.01px;font-size:10.5px;line-height:10.5px;font-weight:700;color:#27326a;white-space:nowrap;z-index:5;transform:scaleX(0.9225);transform-origin:left center;">KALENDER</span><span style="position:absolute;left:1575.00px;top:164.01px;font-size:10.5px;line-height:10.5px;font-weight:700;color:#27326a;white-space:nowrap;z-index:5;transform:scaleX(0.9441);transform-origin:left center;">HANDBOEKEN</span><span style="position:absolute;left:1658.50px;top:164.01px;font-size:10.5px;line-height:10.5px;font-weight:700;color:#27326a;white-space:nowrap;z-index:5;transform:scaleX(0.9613);transform-origin:left center;">BESTANDEN</span><span style="position:absolute;left:1733.00px;top:164.01px;font-size:10.5px;line-height:10.5px;font-weight:700;color:#27326a;white-space:nowrap;z-index:5;transform:scaleX(0.9169);transform-origin:left center;">ACTUEEL</span><span style="position:absolute;left:1791.70px;top:164.01px;font-size:10.5px;line-height:10.5px;font-weight:700;color:#27326a;white-space:nowrap;z-index:5;transform:scaleX(0.9445);transform-origin:left center;">BERICHTEN</span><span style="position:absolute;left:1862.50px;top:164.01px;font-size:10.5px;line-height:10.5px;font-weight:700;color:#27326a;white-space:nowrap;z-index:5;transform:scaleX(0.9105);transform-origin:left center;">FAQ</span><span style="position:absolute;left:186.48px;top:203.83px;font-size:23px;line-height:23px;font-weight:700;color:#222d5e;white-space:nowrap;z-index:5;transform:scaleX(0.9224);transform-origin:left center;">Meldingen</span><span style="position:absolute;left:289.86px;top:203.83px;font-size:23px;line-height:23px;font-weight:700;color:#f07a2a;white-space:nowrap;z-index:5;transform:scaleX(0.9359);transform-origin:left center;">.</span><span style="position:absolute;left:160.60px;top:258.86px;font-size:16px;line-height:16px;font-weight:700;color:#222d5e;white-space:nowrap;z-index:5;transform:scaleX(0.9200);transform-origin:left center;">Overzicht</span><span style="position:absolute;left:272.06px;top:258.86px;font-size:16px;line-height:16px;font-weight:700;color:#9ca2bd;white-space:nowrap;z-index:5;transform:scaleX(0.9403);transform-origin:left center;">Doorlooptijden</span><span style="position:absolute;left:175.69px;top:318.76px;font-size:16px;line-height:16px;font-weight:700;color:#222d5c;white-space:nowrap;z-index:5;transform:scaleX(0.9141);transform-origin:left center;">Flow</span><span style="position:absolute;left:214.60px;top:321.84px;font-size:12px;line-height:12px;font-weight:400;color:#a5a9ad;white-space:nowrap;z-index:5;transform:scaleX(0.9949);transform-origin:left center;">(Binnen geselecteerde periode / Totaal)</span><span style="position:absolute;left:167.52px;top:370.73px;font-size:14.5px;line-height:14.5px;font-weight:400;color:#2e3760;white-space:nowrap;z-index:5;transform:scaleX(0.9798);transform-origin:left center;">Mogelijk datalek of ander informatie incident melden (21 / 55)</span><span style="position:absolute;left:155.30px;top:422.18px;font-size:15.5px;line-height:15.5px;font-weight:700;color:#222d5c;white-space:nowrap;z-index:5;transform:scaleX(0.8587);transform-origin:left center;">Vestigingen</span><span style="position:absolute;left:166.20px;top:466.43px;font-size:14.5px;line-height:14.5px;font-weight:400;color:#2e3760;white-space:nowrap;z-index:5;transform:scaleX(0.9609);transform-origin:left center;">Selecteer vestiging(en)</span><span style="position:absolute;left:155.30px;top:517.18px;font-size:15.5px;line-height:15.5px;font-weight:700;color:#222d5c;white-space:nowrap;z-index:5;transform:scaleX(0.8479);transform-origin:left center;">Vestingsgroepen</span><span style="position:absolute;left:166.20px;top:561.43px;font-size:14.5px;line-height:14.5px;font-weight:400;color:#2e3760;white-space:nowrap;z-index:5;transform:scaleX(0.9630);transform-origin:left center;">Selecteer vestigingsgroep(en)</span><span style="position:absolute;left:175.65px;top:611.26px;font-size:16px;line-height:16px;font-weight:700;color:#222d5c;white-space:nowrap;z-index:5;transform:scaleX(0.9500);transform-origin:left center;">Periode</span><span style="position:absolute;left:154.94px;top:653.63px;font-size:14.5px;line-height:14.5px;font-weight:400;color:#2e3760;white-space:nowrap;z-index:5;transform:scaleX(0.9637);transform-origin:left center;">Maand</span><span style="position:absolute;left:236.02px;top:653.63px;font-size:14.5px;line-height:14.5px;font-weight:400;color:#2e3760;white-space:nowrap;z-index:5;transform:scaleX(0.9766);transform-origin:left center;text-decoration:underline;text-underline-offset:2px;">Kwartaal</span><span style="position:absolute;left:329.90px;top:653.63px;font-size:14.5px;line-height:14.5px;font-weight:400;color:#2e3760;white-space:nowrap;z-index:5;transform:scaleX(0.9550);transform-origin:left center;">Jaar</span><span style="position:absolute;left:377.80px;top:653.63px;font-size:14.5px;line-height:14.5px;font-weight:400;color:#2e3760;white-space:nowrap;z-index:5;transform:scaleX(0.9711);transform-origin:left center;">Volledige registratieperiode</span><span style="position:absolute;left:167.70px;top:696.65px;font-size:14px;line-height:14px;font-weight:400;color:#2e3760;white-space:nowrap;z-index:5;transform:scaleX(0.9648);transform-origin:left center;">01-10-2023</span><span style="position:absolute;left:361.60px;top:695.80px;font-size:15px;line-height:15px;font-weight:400;color:#2e3760;white-space:nowrap;z-index:5;transform:scaleX(1.0622);transform-origin:left center;">t/m</span><span style="position:absolute;left:411.90px;top:696.65px;font-size:14px;line-height:14px;font-weight:400;color:#2e3760;white-space:nowrap;z-index:5;transform:scaleX(0.9648);transform-origin:left center;">31-12-2023</span><span style="position:absolute;left:176.50px;top:757.26px;font-size:16px;line-height:16px;font-weight:700;color:#222d5c;white-space:nowrap;z-index:5;transform:scaleX(0.9603);transform-origin:left center;">Vragen</span><span style="position:absolute;left:165.44px;top:821.03px;font-size:14.5px;line-height:14.5px;font-weight:400;color:#2e3760;white-space:nowrap;z-index:5;transform:scaleX(0.9598);transform-origin:left center;">Registratie</span><span style="position:absolute;left:165.44px;top:878.33px;font-size:14.5px;line-height:14.5px;font-weight:400;color:#2e3760;white-space:nowrap;z-index:5;transform:scaleX(0.9643);transform-origin:left center;">Beoordeling</span><span style="position:absolute;left:176.50px;top:942.86px;font-size:16px;line-height:16px;font-weight:700;color:#222d5c;white-space:nowrap;z-index:5;transform:scaleX(0.9347);transform-origin:left center;">Status</span><span style="position:absolute;left:180.00px;top:982.93px;font-size:14.5px;line-height:14.5px;font-weight:400;color:#2e3760;white-space:nowrap;z-index:5;transform:scaleX(0.9598);transform-origin:left center;">Verzonden ter beoordeling</span><span style="position:absolute;left:179.04px;top:1016.23px;font-size:14.5px;line-height:14.5px;font-weight:400;color:#2e3760;white-space:nowrap;z-index:5;transform:scaleX(0.9630);transform-origin:left center;">In behandeling</span><span style="position:absolute;left:624.48px;top:323.89px;font-size:26px;line-height:26px;font-weight:700;color:#f35f0c;white-space:nowrap;z-index:5;transform:scaleX(0.9174);transform-origin:left center;">Mogelijk datalek of ander informatie incident melden</span><span style="position:absolute;left:1251.00px;top:333.84px;font-size:12px;line-height:12px;font-weight:400;color:#a4a9ad;white-space:nowrap;z-index:5;">21 registraties</span><span style="position:absolute;left:624.86px;top:393.16px;font-size:16px;line-height:16px;font-weight:700;color:#222d5c;white-space:nowrap;z-index:5;transform:scaleX(0.9438);transform-origin:left center;">Registratie</span><span style="position:absolute;left:1689.70px;top:395.42px;font-size:12.5px;line-height:12.5px;font-weight:400;color:#a4a8ac;white-space:nowrap;z-index:5;transform:scaleX(0.9368);transform-origin:left center;">Algemene weergave</span><span style="position:absolute;left:645.40px;top:450.46px;font-size:16px;line-height:16px;font-weight:700;color:#222d5c;white-space:nowrap;z-index:5;transform:scaleX(0.9431);transform-origin:left center;">Wie heeft het incident gemeld?</span><span style="position:absolute;left:1746.70px;top:451.69px;font-size:11px;line-height:11px;font-weight:400;color:#2b3463;white-space:nowrap;z-index:5;transform:scaleX(0.9985);transform-origin:left center;">van 21 registraties ingevuld</span><span style="position:absolute;left:1719.62px;top:451.69px;font-size:11px;line-height:11px;font-weight:400;color:#eef3fa;white-space:nowrap;z-index:5;transform:scaleX(0.9609);transform-origin:left center;">21</span><span style="position:absolute;left:644.45px;top:769.96px;font-size:16px;line-height:16px;font-weight:700;color:#222d5c;white-space:nowrap;z-index:5;transform:scaleX(0.9495);transform-origin:left center;">Heeft u of iemand anders al actie(s) ondernomen?</span><span style="position:absolute;left:1746.70px;top:771.69px;font-size:11px;line-height:11px;font-weight:400;color:#2b3463;white-space:nowrap;z-index:5;transform:scaleX(0.9985);transform-origin:left center;">van 21 registraties ingevuld</span><span style="position:absolute;left:1719.62px;top:771.69px;font-size:11px;line-height:11px;font-weight:400;color:#eef3fa;white-space:nowrap;z-index:5;transform:scaleX(0.9609);transform-origin:left center;">21</span><span style="position:absolute;left:624.67px;top:1030.06px;font-size:16px;line-height:16px;font-weight:700;color:#222d5c;white-space:nowrap;z-index:5;transform:scaleX(0.9349);transform-origin:left center;">Beoordeling</span><span style="position:absolute;left:647.40px;top:542.85px;font-size:14px;line-height:14px;font-weight:700;color:#222d5c;white-space:nowrap;z-index:5;transform:scaleX(0.9202);transform-origin:left center;">Antwoord</span><span style="position:absolute;left:1024.00px;top:542.85px;font-size:14px;line-height:14px;font-weight:700;color:#222d5c;white-space:nowrap;z-index:5;transform:scaleX(0.9595);transform-origin:left center;">Aantal</span><span style="position:absolute;left:1138.00px;top:542.85px;font-size:14px;line-height:14px;font-weight:700;color:#222d5c;white-space:nowrap;z-index:5;transform:scaleX(0.9394);transform-origin:left center;">Verhouding antwoorden</span><span style="position:absolute;left:1491.70px;top:542.85px;font-size:14px;line-height:14px;font-weight:700;color:#222d5c;white-space:nowrap;z-index:5;transform:scaleX(0.9312);transform-origin:left center;">Geantwoord binnen registraties</span><span style="position:absolute;left:646.45px;top:578.73px;font-size:14.5px;line-height:14.5px;font-weight:400;color:#2e3760;white-space:nowrap;z-index:5;transform:scaleX(0.9513);transform-origin:left center;">Ik zelf</span><span style="position:absolute;left:1024.00px;top:578.73px;font-size:14.5px;line-height:14.5px;font-weight:400;color:#2e3760;white-space:nowrap;z-index:5;transform:scaleX(0.9125);transform-origin:left center;">9</span><span style="position:absolute;right:579.50px;top:578.73px;font-size:14.5px;line-height:14.5px;font-weight:400;color:#2e3760;white-space:nowrap;z-index:5;transform:scaleX(0.9009);transform-origin:right center;">42.86%</span><span style="position:absolute;right:136.61px;top:578.73px;font-size:14.5px;line-height:14.5px;font-weight:400;color:#2e3760;white-space:nowrap;z-index:5;transform:scaleX(0.9556);transform-origin:right center;">9 registraties (42.86%)</span><span style="position:absolute;left:646.47px;top:620.73px;font-size:14.5px;line-height:14.5px;font-weight:400;color:#2e3760;white-space:nowrap;z-index:5;transform:scaleX(0.9272);transform-origin:left center;">Een collega</span><span style="position:absolute;left:1022.98px;top:620.73px;font-size:14.5px;line-height:14.5px;font-weight:400;color:#2e3760;white-space:nowrap;z-index:5;transform:scaleX(1.0223);transform-origin:left center;">11</span><span style="position:absolute;right:579.50px;top:620.73px;font-size:14.5px;line-height:14.5px;font-weight:400;color:#2e3760;white-space:nowrap;z-index:5;transform:scaleX(0.9009);transform-origin:right center;">52.38%</span><span style="position:absolute;right:136.59px;top:620.73px;font-size:14.5px;line-height:14.5px;font-weight:400;color:#2e3760;white-space:nowrap;z-index:5;transform:scaleX(0.9746);transform-origin:right center;">11 registraties (52.38%)</span><span style="position:absolute;left:646.43px;top:662.73px;font-size:14.5px;line-height:14.5px;font-weight:400;color:#2e3760;white-space:nowrap;z-index:5;transform:scaleX(0.9664);transform-origin:left center;">Iemand buiten de organisatie</span><span style="position:absolute;left:1023.10px;top:662.73px;font-size:14.5px;line-height:14.5px;font-weight:400;color:#2e3760;white-space:nowrap;z-index:5;transform:scaleX(0.9000);transform-origin:left center;">1</span><span style="position:absolute;right:579.50px;top:662.73px;font-size:14.5px;line-height:14.5px;font-weight:400;color:#2e3760;white-space:nowrap;z-index:5;transform:scaleX(0.8927);transform-origin:right center;">4.76%</span><span style="position:absolute;right:136.60px;top:662.73px;font-size:14.5px;line-height:14.5px;font-weight:400;color:#2e3760;white-space:nowrap;z-index:5;transform:scaleX(0.9609);transform-origin:right center;">1 registratie (4.76%)</span><span style="position:absolute;left:647.40px;top:863.05px;font-size:14px;line-height:14px;font-weight:700;color:#222d5c;white-space:nowrap;z-index:5;transform:scaleX(0.9202);transform-origin:left center;">Antwoord</span><span style="position:absolute;left:831.00px;top:863.05px;font-size:14px;line-height:14px;font-weight:700;color:#222d5c;white-space:nowrap;z-index:5;transform:scaleX(0.9595);transform-origin:left center;">Aantal</span><span style="position:absolute;left:969.00px;top:863.05px;font-size:14px;line-height:14px;font-weight:700;color:#222d5c;white-space:nowrap;z-index:5;transform:scaleX(0.9394);transform-origin:left center;">Verhouding antwoorden</span><span style="position:absolute;left:1397.00px;top:863.05px;font-size:14px;line-height:14px;font-weight:700;color:#222d5c;white-space:nowrap;z-index:5;transform:scaleX(0.9359);transform-origin:left center;">Geantwoord binnen registraties</span><span style="position:absolute;left:646.56px;top:898.73px;font-size:14.5px;line-height:14.5px;font-weight:400;color:#2e3760;white-space:nowrap;z-index:5;transform:scaleX(0.9399);transform-origin:left center;">Nee</span><span style="position:absolute;left:829.90px;top:898.73px;font-size:14.5px;line-height:14.5px;font-weight:400;color:#2e3760;white-space:nowrap;z-index:5;transform:scaleX(1.0024);transform-origin:left center;">18</span><span style="position:absolute;right:673.30px;top:898.73px;font-size:14.5px;line-height:14.5px;font-weight:400;color:#2e3760;white-space:nowrap;z-index:5;transform:scaleX(0.9049);transform-origin:right center;">85.71%</span><span style="position:absolute;right:136.30px;top:898.73px;font-size:14.5px;line-height:14.5px;font-weight:400;color:#2e3760;white-space:nowrap;z-index:5;transform:scaleX(0.9697);transform-origin:right center;">18 registraties (85.71%)</span><span style="position:absolute;left:647.50px;top:940.73px;font-size:14.5px;line-height:14.5px;font-weight:400;color:#2e3760;white-space:nowrap;z-index:5;transform:scaleX(0.8985);transform-origin:left center;">Ja</span><span style="position:absolute;left:830.90px;top:940.73px;font-size:14.5px;line-height:14.5px;font-weight:400;color:#2e3760;white-space:nowrap;z-index:5;transform:scaleX(0.9000);transform-origin:left center;">3</span><span style="position:absolute;right:673.30px;top:940.73px;font-size:14.5px;line-height:14.5px;font-weight:400;color:#2e3760;white-space:nowrap;z-index:5;transform:scaleX(0.9237);transform-origin:right center;">14.29%</span><span style="position:absolute;right:136.31px;top:940.73px;font-size:14.5px;line-height:14.5px;font-weight:400;color:#2e3760;white-space:nowrap;z-index:5;transform:scaleX(0.9590);transform-origin:right center;">3 registraties (14.29%)</span>
</div>
<svg style="left:0;top:0;z-index:10;" width="2050" height="1121" viewBox="0 0 2050 1121">
<path fill="#fc4236" d="M42.6,485 H45.2 V515 H39.8 V492 L35.4,495.8 L33.9,492.3Z"/>
<rect x="63.9" y="499.6" width="62.5" height="5.1" fill="#fc4236"/>
<path fill="#fc4236" d="M125.7,488.3 L157.5,502 L125.7,516.1Z"/>
<path fill="#fc4236" d="M1918.8,488.1 L1887.3,501.8 L1918.8,515.7Z"/>
<rect x="1918" y="499.3" width="47.2" height="4.9" fill="#fc4236"/>
<path fill="none" stroke="#fc4236" stroke-width="3.6" stroke-linejoin="miter" d="M1974.3,490.8 C1975,487 1978,486 1981.4,486 C1985.8,486 1989,488.8 1989,492.6 C1989,495.8 1987.2,498.2 1984.5,501.4 L1975.2,512.3 M1973.4,513.2 H1991.2"/>
</svg>
</div>
</body></html>
